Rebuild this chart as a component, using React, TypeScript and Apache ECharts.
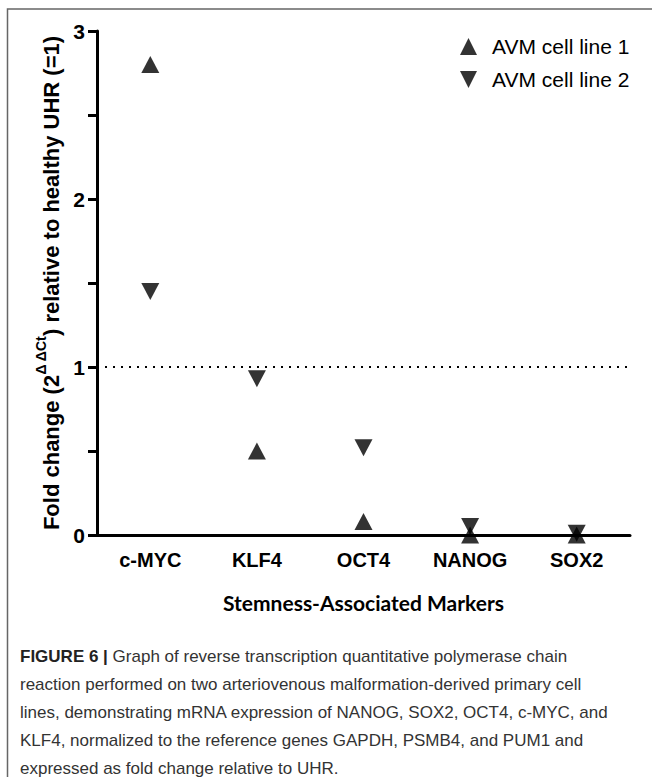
import React, { useEffect, useRef } from "react";
import * as echarts from "echarts";

const categories = ["c-MYC", "KLF4", "OCT4", "NANOG", "SOX2"];
const line1Values = [2.8, 0.5, 0.08, 0.0, 0.0];
const line2Values = [1.45, 0.93, 0.52, 0.05, 0.01];
const referenceLevel = 1;
const yTickLabels = [0, 1, 2, 3];
const captionLines = [
  "Graph of reverse transcription quantitative polymerase chain",
  "reaction performed on two arteriovenous malformation-derived primary cell",
  "lines, demonstrating mRNA expression of NANOG, SOX2, OCT4, c-MYC, and",
  "KLF4, normalized to the reference genes GAPDH, PSMB4, and PUM1 and",
  "expressed as fold change relative to UHR.",
];

const DOWN_TRI = "path://M0,0 L10,0 L5,10 Z";
const UP_TRI = "path://M5,0 L10,10 L0,10 Z";

export default function App() {
  const ref = useRef<HTMLDivElement>(null);
  useEffect(() => {
    if (!ref.current) return;
    const chart = echarts.init(ref.current, null, { renderer: "svg" });
    const axisFont = "Liberation Sans, Arial, sans-serif";
    const captionFont = "Liberation Sans, Arial, sans-serif";
    const captionText =
      "{b|FIGURE 6 |} " +
      captionLines[0] +
      "\n" +
      captionLines.slice(1).join("\n");
    chart.setOption({
      animation: false,
      backgroundColor: "#fff",
      grid: { left: 97, right: 22, top: 31, bottom: 242, containLabel: false },
      legend: {
        orient: "vertical",
        left: 455,
        top: 31,
        itemWidth: 17,
        itemHeight: 17,
        itemGap: 12,
        textStyle: {
          fontSize: 21,
          lineHeight: 17,
          fontFamily: axisFont,
          color: "#000",
          padding: [0, 0, 0, 10],
        },
        data: ["AVM cell line 1", "AVM cell line 2"],
      },
      xAxis: {
        type: "category",
        data: categories,
        name: "Stemness-Associated Markers",
        nameLocation: "middle",
        nameGap: 57,
        nameTextStyle: {
          fontSize: 21,
          fontWeight: "bold",
          fontFamily: "Lato, Open Sans, sans-serif",
          color: "#000",
        },
        axisLine: { lineStyle: { color: "#000", width: 3 } },
        axisTick: { alignWithLabel: true, length: 8, lineStyle: { color: "#000", width: 3 } },
        axisLabel: {
          margin: 15,
          fontSize: 20,
          fontWeight: "bold",
          fontFamily: axisFont,
          color: "#000",
        },
        splitLine: { show: false },
      },
      yAxis: {
        type: "value",
        min: 0,
        max: 3,
        interval: 0.5,
        name:
          "{n|Fold change (2}{s|Δ ΔCt}{n|) relative to healthy UHR (=1)}",
        nameLocation: "middle",
        nameRotate: 90,
        nameGap: 32,
        nameTextStyle: {
          rich: {
            n: {
              fontSize: 22,
              fontWeight: "bold",
              fontFamily: axisFont,
              color: "#000",
              lineHeight: 28,
              verticalAlign: "bottom",
            },
            s: {
              fontSize: 14,
              fontWeight: "bold",
              fontFamily: axisFont,
              color: "#000",
              lineHeight: 28,
              verticalAlign: "top",
            },
          },
        },
        axisLine: { show: true, lineStyle: { color: "#000", width: 3 } },
        axisTick: { show: true, inside: false, length: 9, lineStyle: { color: "#000", width: 3 } },
        axisLabel: {
          margin: 12,
          fontSize: 21,
          fontWeight: "bold",
          fontFamily: axisFont,
          color: "#000",
          formatter: (v: number) => (yTickLabels.includes(v) ? String(v) : ""),
        },
        splitLine: { show: false },
      },
      series: [
        {
          name: "AVM cell line 1",
          type: "scatter",
          symbol: UP_TRI,
          symbolSize: [18, 17],
          itemStyle: { color: "#000" },
          data: line1Values,
          z: 3,
          markLine: {
            silent: true,
            symbol: "none",
            label: { show: false },
            lineStyle: { color: "#000", type: [2, 6], width: 2 },
            data: [{ yAxis: referenceLevel }],
          },
        },
        {
          name: "AVM cell line 2",
          type: "scatter",
          symbol: DOWN_TRI,
          symbolSize: [18, 17],
          itemStyle: { color: "#000" },
          data: line2Values,
          z: 4,
        },
      ],
      graphic: [
        {
          type: "rect",
          shape: { x: 7.5, y: 9, width: 720, height: 820 },
          style: { fill: "none", stroke: "#666", lineWidth: 1.5 },
          silent: true,
        },
        {
          type: "text",
          left: 20,
          top: 642,
          style: {
            text: captionText,
            fontSize: 17,
            fontFamily: captionFont,
            fill: "#333",
            lineHeight: 28,
            rich: {
              b: {
                fontSize: 17,
                fontWeight: "bold",
                fontFamily: captionFont,
                fill: "#222",
                lineHeight: 28,
              },
            },
          },
        },
      ],
    });
    return () => chart.dispose();
  }, []);
  return (
    <div
      ref={ref}
      style={{ position: "absolute", left: 0, top: 0, width: 652, height: 777 }}
    />
  );
}
